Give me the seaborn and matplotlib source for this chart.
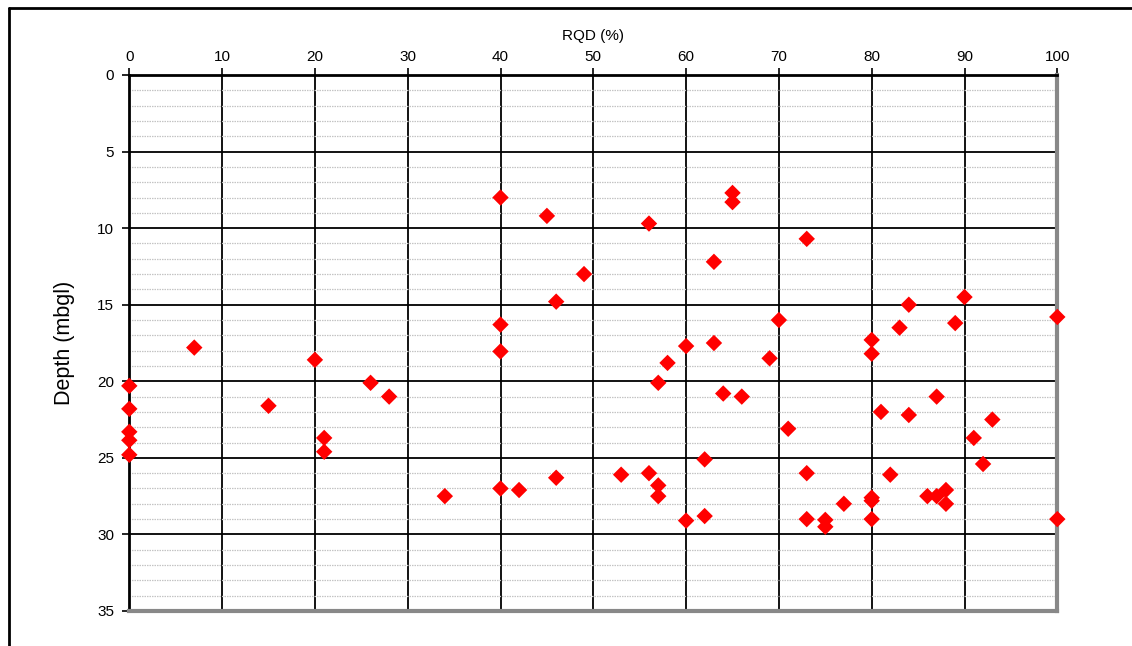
import matplotlib
matplotlib.use("Agg")
import matplotlib.pyplot as plt
import seaborn as sns
import pandas as pd
from matplotlib.lines import Line2D
from matplotlib.ticker import MultipleLocator

rqd = [7, 0, 0, 0, 0, 15, 20, 26, 28, 21,
       0, 21, 34,
       40, 45, 56, 65, 65, 63, 49, 46, 40, 40,
       70, 63, 60, 58, 69, 57, 64, 66,
       40, 42, 46, 53, 56, 57, 57, 60, 62, 62,
       73, 80, 80, 84, 83, 90, 89, 100,
       71, 81, 84, 87, 91, 93,
       92, 73, 82, 80, 80, 77, 73, 75, 75, 80,
       86, 87, 88, 88, 100]
depth = [17.8, 20.3, 21.8, 23.3, 23.85, 21.6, 18.6, 20.1, 21.0, 23.7,
         24.8, 24.6, 27.5,
         8.0, 9.2, 9.7, 7.7, 8.3, 12.2, 13.0, 14.8, 16.3, 18.05,
         16.0, 17.5, 17.7, 18.8, 18.5, 20.1, 20.8, 21.0,
         27.0, 27.1, 26.3, 26.1, 26.0, 26.8, 27.5, 29.1, 28.8, 25.1,
         10.7, 17.3, 18.2, 15.0, 16.5, 14.5, 16.2, 15.8,
         23.1, 22.0, 22.2, 21.0, 23.7, 22.5,
         25.4, 26.0, 26.1, 27.6, 27.8, 28.0, 29.0, 29.05, 29.5, 29.0,
         27.5, 27.5, 27.1, 28.0, 29.0]

x_ticks = list(range(0, 101, 10))
y_ticks = list(range(0, 36, 5))

df = pd.DataFrame({"RQD (%)": rqd, "Depth (mbgl)": depth})

sns.set_style("white")
plt.rcParams["font.family"] = ["Liberation Sans", "DejaVu Sans"]
plt.rcParams["text.color"] = "black"
plt.rcParams["axes.labelcolor"] = "black"
plt.rcParams["xtick.color"] = "black"
plt.rcParams["ytick.color"] = "black"

fig = plt.figure(figsize=(11.32, 6.46), dpi=100)
ax = fig.add_axes([129.3 / 1132, 1 - 611 / 646, (1057.3 - 129.3) / 1132, (611 - 75) / 646])

ax.set_xlim(0, 100)
ax.set_ylim(35, 0)
ax.set_xticks(x_ticks)
ax.set_yticks(y_ticks)
ax.yaxis.set_minor_locator(MultipleLocator(1))

ax.grid(which="major", axis="both", color="black", linewidth=1.3, zorder=1)
ax.grid(which="minor", axis="y", color="#c4c4c4", linewidth=0.9, linestyle=(0, (1.2, 0.8)), zorder=0)
ax.set_axisbelow(True)

sns.scatterplot(data=df, x="RQD (%)", y="Depth (mbgl)", ax=ax, marker="D",
                s=70, color="#ff0000", edgecolor="none", linewidth=0, zorder=5,
                clip_on=False, legend=False)

ax.xaxis.tick_top()
ax.xaxis.set_label_position("top")
ax.tick_params(axis="x", which="major", direction="out", length=5, width=1.2,
               color="black", labelcolor="black", labelsize=11, pad=3, top=True, bottom=False)
ax.tick_params(axis="y", which="major", direction="out", length=5, width=1.2,
               color="black", labelcolor="black", labelsize=11, pad=6, left=True)
ax.tick_params(axis="y", which="minor", length=0)
ax.set_xlabel("RQD (%)", fontsize=11, labelpad=7, color="black")
ax.set_ylabel("Depth (mbgl)", fontsize=15.5, labelpad=16, color="black")

for side in ["top", "left"]:
    ax.spines[side].set_color("black")
    ax.spines[side].set_linewidth(2)
for side in ["right", "bottom"]:
    ax.spines[side].set_color("#888888")
    ax.spines[side].set_linewidth(3)

# outer chart frame (left and top edges)
fig.add_artist(Line2D([8.5 / 1132, 8.5 / 1132], [0, 1 - 7.5 / 646], transform=fig.transFigure,
                      color="black", linewidth=2))
fig.add_artist(Line2D([8.5 / 1132, 1], [1 - 7.5 / 646, 1 - 7.5 / 646], transform=fig.transFigure,
                      color="black", linewidth=2))

fig.savefig("out.png", dpi=100)
